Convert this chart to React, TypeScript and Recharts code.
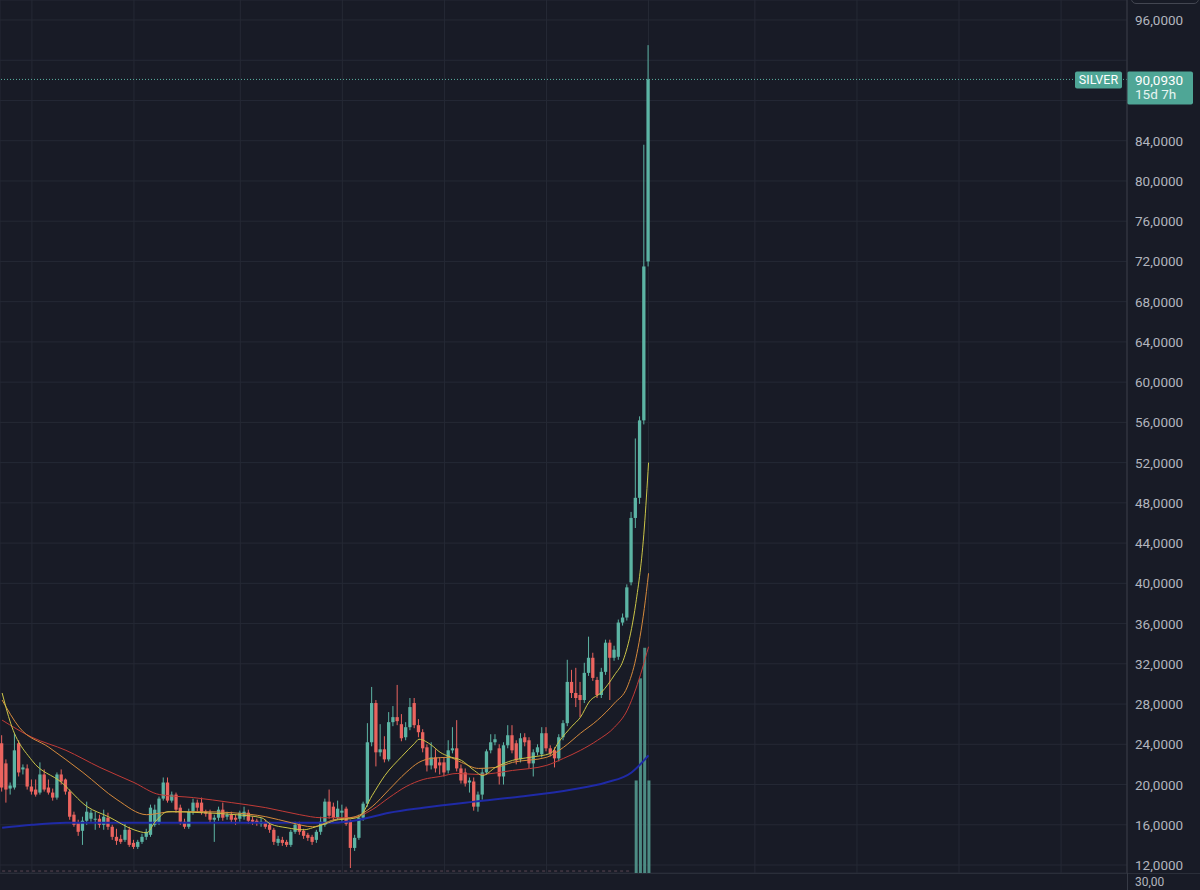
import React from 'react';
import { ComposedChart, Bar, Line, XAxis, YAxis, CartesianGrid, ReferenceLine } from 'recharts';

// weekly candles, oldest first
const opens = [
  24.1, 22.1, 19.6, 19.7, 24.1, 21.5, 21.6, 19.8, 19.5, 19.2,
  21.0, 19.7, 19.2, 18.7, 21.0, 20.5, 19.3, 17.0, 16.2, 15.4,
  16.4, 16.6, 16.5, 16.6, 16.0, 16.7, 15.8, 14.8, 14.6, 14.5,
  15.5, 14.2, 13.8, 14.3, 14.8, 15.0, 16.0, 16.2, 18.6, 20.2,
  18.4, 19.0, 17.7, 16.3, 15.8, 17.3, 18.2, 18.2, 17.3, 17.2,
  16.5, 16.7, 17.5, 16.8, 17.0, 16.7, 16.6, 16.8, 17.2, 16.5,
  16.4, 16.1, 16.2, 16.0, 15.5, 14.2, 14.5, 14.3, 14.0, 15.3,
  16.0, 15.4, 15.0, 14.8, 14.5, 15.3, 16.0, 18.3, 17.8, 16.7,
  17.2, 17.6, 16.3, 13.7, 14.7, 16.7, 18.1, 24.2, 28.1, 23.2,
  23.5, 22.5, 26.2, 26.7, 26.0, 24.7, 25.7, 28.1, 25.9, 25.2,
  23.7, 21.9, 22.7, 22.2, 22.2, 21.4, 23.4, 23.6, 21.6, 21.2,
  20.2, 20.3, 17.8, 19.0, 21.2, 23.4, 24.2, 23.6, 20.8, 23.9,
  24.9, 24.1, 22.5, 24.7, 24.4, 22.1, 23.2, 23.0, 25.1, 23.6,
  23.4, 22.6, 24.7, 26.1, 30.2, 29.1, 28.9, 28.4, 31.1, 32.6,
  30.4, 28.9, 31.2, 34.1, 32.6, 32.7, 36.1, 36.6, 40.1, 46.5,
  48.5, 56.2, 72.0,
];
const highs = [
  24.9, 22.5, 20.2, 25.1, 24.4, 22.0, 22.0, 20.5, 20.5, 22.2,
  21.5, 20.5, 19.6, 21.2, 21.5, 20.6, 19.5, 17.3, 16.5, 16.8,
  18.3, 17.5, 17.3, 17.0, 17.5, 17.2, 16.0, 15.6, 15.0, 16.1,
  15.8, 14.5, 14.5, 15.1, 15.6, 18.0, 18.0, 18.8, 20.7, 20.7,
  19.3, 19.2, 18.0, 16.6, 17.6, 18.6, 18.5, 18.7, 17.5, 17.5,
  17.0, 17.8, 18.2, 17.3, 17.3, 17.0, 17.4, 17.8, 17.5, 16.8,
  16.6, 16.7, 16.5, 16.3, 15.7, 14.9, 14.8, 14.5, 15.5, 16.3,
  16.3, 15.6, 15.2, 15.0, 15.5, 16.8, 18.6, 19.5, 18.2, 18.4,
  18.0, 17.8, 16.5, 15.0, 17.0, 18.3, 26.1, 29.7, 28.4, 26.0,
  24.8, 27.2, 27.8, 29.9, 27.0, 26.2, 28.6, 28.6, 26.5, 25.5,
  24.0, 24.2, 23.5, 22.7, 22.7, 24.4, 25.7, 26.4, 22.0, 21.6,
  20.7, 20.7, 19.3, 21.6, 23.5, 25.0, 25.0, 24.0, 24.2, 25.9,
  25.9, 24.4, 25.1, 25.1, 24.7, 23.5, 24.0, 25.7, 25.7, 23.9,
  23.7, 25.0, 26.4, 32.4, 31.4, 31.6, 30.2, 32.1, 34.7, 33.1,
  30.7, 31.6, 34.4, 34.4, 33.8, 36.4, 37.0, 39.9, 47.1, 54.4,
  56.6, 83.6, 93.5,
];
const lows = [
  19.3, 18.2, 19.0, 19.5, 20.8, 21.0, 19.5, 19.0, 18.8, 19.0,
  19.3, 19.0, 18.4, 18.5, 20.0, 19.0, 16.5, 15.8, 14.9, 14.0,
  16.0, 16.3, 15.5, 15.7, 15.5, 15.5, 14.5, 14.0, 14.1, 14.3,
  13.8, 13.6, 13.6, 14.1, 14.5, 14.8, 15.8, 16.0, 18.4, 18.2,
  18.2, 17.2, 16.0, 15.6, 15.6, 17.0, 17.3, 17.0, 16.8, 16.2,
  14.3, 16.4, 16.4, 16.5, 16.2, 16.0, 16.3, 16.5, 16.1, 16.0,
  15.9, 15.8, 15.6, 15.2, 14.0, 13.9, 13.9, 13.8, 13.8, 15.1,
  15.0, 14.6, 14.4, 14.0, 14.2, 15.0, 15.8, 16.6, 16.4, 16.5,
  16.2, 15.9, 11.7, 13.4, 14.5, 16.4, 17.8, 23.8, 21.8, 22.8,
  22.2, 22.3, 25.8, 25.9, 24.3, 24.4, 25.4, 25.6, 24.7, 23.2,
  21.3, 21.5, 21.2, 21.0, 20.8, 21.1, 23.1, 21.3, 20.1, 19.8,
  19.2, 17.4, 17.3, 18.5, 21.0, 23.1, 23.9, 20.0, 20.0, 23.6,
  23.1, 22.0, 22.2, 23.8, 21.6, 20.8, 22.9, 22.7, 23.3, 22.8,
  21.7, 22.3, 24.4, 25.8, 28.6, 27.7, 26.7, 28.1, 30.8, 30.3,
  28.6, 28.6, 30.9, 28.4, 32.3, 32.4, 35.8, 36.3, 39.8, 45.5,
  47.9, 55.8, 71.5,
];
const closes = [
  19.7, 19.5, 19.9, 23.4, 21.2, 21.7, 19.8, 19.3, 19.0, 21.0,
  19.5, 19.2, 18.7, 21.0, 20.3, 19.3, 16.8, 16.0, 15.3, 16.4,
  17.3, 17.2, 16.6, 16.0, 16.8, 15.8, 14.8, 14.4, 14.3, 15.5,
  14.0, 13.8, 14.3, 14.8, 15.3, 17.7, 17.5, 18.6, 20.2, 18.4,
  19.0, 17.5, 16.3, 15.8, 17.3, 18.2, 17.7, 17.2, 17.1, 16.5,
  16.7, 17.5, 16.7, 17.0, 16.5, 16.5, 17.2, 17.3, 16.4, 16.3,
  16.2, 16.3, 15.8, 15.5, 14.3, 14.6, 14.2, 14.0, 15.3, 16.0,
  15.3, 14.9, 14.7, 14.3, 15.3, 16.3, 18.3, 16.9, 16.7, 17.6,
  17.4, 16.1, 13.7, 14.7, 16.7, 18.1, 24.2, 28.1, 23.2, 23.5,
  22.5, 26.2, 26.7, 26.3, 24.6, 25.7, 27.7, 25.9, 25.2, 23.6,
  21.9, 22.7, 21.6, 21.9, 21.2, 23.4, 23.6, 21.6, 20.4, 20.1,
  20.4, 17.8, 19.0, 21.2, 23.3, 24.2, 24.5, 20.8, 23.9, 24.9,
  23.4, 22.4, 24.6, 24.2, 22.1, 23.2, 23.7, 25.1, 23.6, 23.1,
  22.6, 24.7, 26.1, 30.2, 29.1, 28.6, 28.4, 31.1, 32.6, 30.6,
  28.9, 31.2, 34.1, 32.6, 33.4, 36.1, 36.6, 39.6, 46.5, 48.5,
  56.2, 71.5, 90.093,
];

// moving averages: [candle index, value]
const maFast: [number, number][] = [
  [0, 29.1], [2, 26.1], [7, 22.4], [14, 20.2], [20, 17.8], [25, 16.8], [31, 15.5], [34, 15.2],
  [36, 16.3], [39, 17.3], [47, 17.2], [55, 17.0], [61, 16.7], [63, 16.1], [67, 15.7], [71, 15.5],
  [73, 15.7], [76, 16.1], [79, 16.5], [82, 16.6], [84, 16.8], [87, 18.9], [90, 20.9], [94, 22.8],
  [97, 24.1], [98, 24.5], [101, 23.9], [103, 23.2], [105, 22.8], [108, 22.4], [111, 21.4], [113, 20.9],
  [116, 21.7], [120, 22.4], [124, 22.7], [129, 23.1], [131, 24.3], [134, 25.8], [136, 26.7], [138, 28.2],
  [141, 29.2], [144, 30.9], [146, 32.3], [148, 35.5], [149, 38.0], [151, 45.5], [152, 52.0],
];
const maMid: [number, number][] = [
  [0, 28.4], [4, 25.7], [11, 23.7], [19, 21.2], [27, 18.5], [34, 17.0], [40, 17.3], [47, 17.3],
  [54, 17.2], [62, 16.8], [68, 16.2], [73, 15.8], [78, 16.5], [83, 16.8], [87, 17.8], [91, 19.5],
  [95, 21.2], [98, 22.2], [101, 22.6], [105, 22.7], [108, 22.2], [112, 21.6], [116, 21.7], [120, 22.2],
  [128, 22.7], [132, 23.7], [136, 25.1], [140, 26.4], [144, 28.1], [147, 29.7], [149, 32.5], [151, 37.5],
  [152, 41.0],
];
const maSlow: [number, number][] = [
  [0, 26.4], [7, 24.7], [15, 23.4], [23, 21.7], [31, 20.2], [37, 19.0], [45, 18.7], [54, 18.2],
  [62, 17.7], [70, 17.0], [75, 16.7], [82, 16.7], [87, 17.5], [91, 18.7], [95, 19.8], [99, 20.5],
  [103, 20.8], [107, 21.1], [112, 21.0], [120, 21.4], [128, 21.9], [132, 22.6], [136, 23.4], [140, 24.4],
  [144, 25.7], [147, 27.4], [149, 29.5], [152, 33.7],
];
const maLong: [number, number][] = [
  [0, 15.7], [7, 16.0], [15, 16.2], [47, 16.2], [78, 16.2], [84, 16.5], [91, 17.2], [99, 17.7],
  [111, 18.3], [122, 18.8], [134, 19.5], [142, 20.2], [148, 21.2], [152, 22.9],
];

const volumeIndex = [149, 150, 151, 152];
const volumeValues = [10.6, 22.3, 25.8, 10.6];

const priceTicks = [12, 16, 20, 24, 28, 32, 36, 40, 44, 48, 52, 56, 60, 64, 68, 72, 76, 80, 84, 88, 92, 96];
const gridSlots = [7, 31, 56, 80, 104, 128, 152, 177, 201, 225, 249];
const SLOTS = 265;
const symbol = 'SILVER';
const countdown = '15d 7h';
const subPaneLabel = '30,00';

const BG = '#181b26';
const GRID = '#252935';
const UP = '#5cb4a4';
const DOWN = '#eb645f';
const TEXT = '#b2b5be';

const fmt = (v: number) => v.toFixed(4).replace('.', ',');
const lastClose = closes[closes.length - 1];

const toMap = (pts: [number, number][]) => new Map(pts.map(([i, v]) => [i, v]));
const fastMap = toMap(maFast);
const midMap = toMap(maMid);
const slowMap = toMap(maSlow);
const longMap = toMap(maLong);

const rows = Array.from({ length: SLOTS }, (_, i) => {
  const has = i < opens.length;
  const vi = volumeIndex.indexOf(i);
  return {
    i,
    o: has ? opens[i] : undefined,
    c: has ? closes[i] : undefined,
    range: has ? [lows[i], highs[i]] : null,
    fast: fastMap.get(i) ?? null,
    mid: midMap.get(i) ?? null,
    slow: slowMap.get(i) ?? null,
    long: longMap.get(i) ?? null,
    vol: vi >= 0 ? volumeValues[vi] : null,
  };
});

const Candle = (props: any) => {
  const { x, y, width, height, payload } = props;
  if (!payload || payload.o === undefined || !payload.range) return null;
  const [lo, hi] = payload.range;
  const top = Math.min(y, y + height);
  const h = Math.abs(height);
  const span = hi - lo || 1;
  const toY = (v: number) => top + ((hi - v) / span) * h;
  const up = payload.c >= payload.o;
  const color = up ? UP : DOWN;
  const bTop = toY(Math.max(payload.o, payload.c));
  const bBot = toY(Math.min(payload.o, payload.c));
  const cx = x + width / 2;
  return (
    <g>
      <line x1={cx} x2={cx} y1={top} y2={top + h} stroke={color} strokeWidth={1} />
      <rect x={x} y={bTop} width={width} height={Math.max(1, bBot - bTop)} fill={color} />
    </g>
  );
};

const PriceTick = (props: any) => {
  const { x, y, payload } = props;
  if (Math.abs(payload.value - lastClose) < 2.5) return null;
  return (
    <text x={x} y={y} dy={5} textAnchor="start" fill={TEXT} fontSize={13.5} fontFamily="Roboto, sans-serif">
      {fmt(payload.value)}
    </text>
  );
};

const PriceTag = (props: any) => {
  const vb = props.viewBox || {};
  const left = vb.x ?? 0;
  const w = vb.width ?? 0;
  const yy = vb.y ?? 0;
  const right = left + w;
  return (
    <g fontFamily="Roboto, sans-serif">
      <rect x={right - 52} y={yy - 8} width={47} height={17} rx={2} fill="#4fa696" />
      <text x={right - 28.5} y={yy + 5} textAnchor="middle" fill="#ffffff" fontSize={12.5}>
        {symbol}
      </text>
      <rect x={right} y={yy - 8} width={66} height={33} rx={2} fill="#4fa696" />
      <text x={right + 8} y={yy + 5.5} fill="#ffffff" fontSize={13.5}>
        {fmt(lastClose)}
      </text>
      <text x={right + 8} y={yy + 20} fill="#e6f4f1" fontSize={13.5}>
        {countdown}
      </text>
    </g>
  );
};

const lineCommon = {
  xAxisId: 'main',
  yAxisId: 'price',
  type: 'monotone' as const,
  dot: false,
  activeDot: false,
  connectNulls: true,
  isAnimationActive: false,
};

export default function App() {
  return (
    <div
      style={{
        position: 'absolute',
        left: 0,
        top: 0,
        width: 1200,
        height: 890,
        background: BG,
        overflow: 'hidden',
        fontFamily: 'Roboto, sans-serif',
      }}
    >
      <ComposedChart width={1200} height={890} data={rows} margin={{ top: 0, right: 0, bottom: 17, left: 0 }}>
        <CartesianGrid xAxisId="main" yAxisId="price" stroke={GRID} />
        <XAxis xAxisId="main" dataKey="i" type="category" hide ticks={gridSlots} interval={0} />
        <XAxis xAxisId="vol" dataKey="i" type="category" hide />
        <YAxis
          yAxisId="price"
          orientation="right"
          width={73}
          domain={[11.205, 97.988]}
          allowDataOverflow
          ticks={priceTicks}
          interval={0}
          tick={<PriceTick />}
          tickLine={false}
          tickSize={0}
          tickMargin={8}
          axisLine={{ stroke: '#363a45' }}
        />
        <YAxis yAxisId="vol" hide domain={[0, 100]} />
        <ReferenceLine
          xAxisId="main"
          yAxisId="price"
          segment={[{ x: 0, y: 11.4 }, { x: 148, y: 11.4 }]}
          stroke="#5b4754"
          strokeDasharray="3 3"
        />
        <Bar xAxisId="vol" yAxisId="vol" dataKey="vol" barSize={3} fill="#4d8c84" isAnimationActive={false} />
        <Line {...lineCommon} dataKey="long" stroke="#1f2aa6" strokeWidth={2} />
        <Line {...lineCommon} dataKey="slow" stroke="#c23b37" strokeWidth={1} />
        <Line {...lineCommon} dataKey="mid" stroke="#d68a3c" strokeWidth={1} />
        <Line {...lineCommon} dataKey="fast" stroke="#cbc548" strokeWidth={1} />
        <Bar xAxisId="main" yAxisId="price" dataKey="range" barSize={3.3} shape={Candle} isAnimationActive={false} />
        <ReferenceLine
          xAxisId="main"
          yAxisId="price"
          y={lastClose}
          stroke="#5cb4a4"
          strokeDasharray="1 2"
          label={PriceTag}
        />
      </ComposedChart>
      <div style={{ position: 'absolute', left: 0, top: 873, width: 1200, height: 17, borderTop: '1px solid #2a2e39' }} />
      <div style={{ position: 'absolute', left: 1127, top: 873, width: 1, height: 17, background: '#363a45' }} />
      <div style={{ position: 'absolute', left: 1135, top: 875, color: TEXT, fontSize: 12, lineHeight: '14px' }}>
        {subPaneLabel}
      </div>
      <div
        style={{
          position: 'absolute',
          left: 1131,
          top: -22,
          width: 66,
          height: 24,
          border: '1px solid #434651',
          borderRadius: 5,
        }}
      />
    </div>
  );
}
